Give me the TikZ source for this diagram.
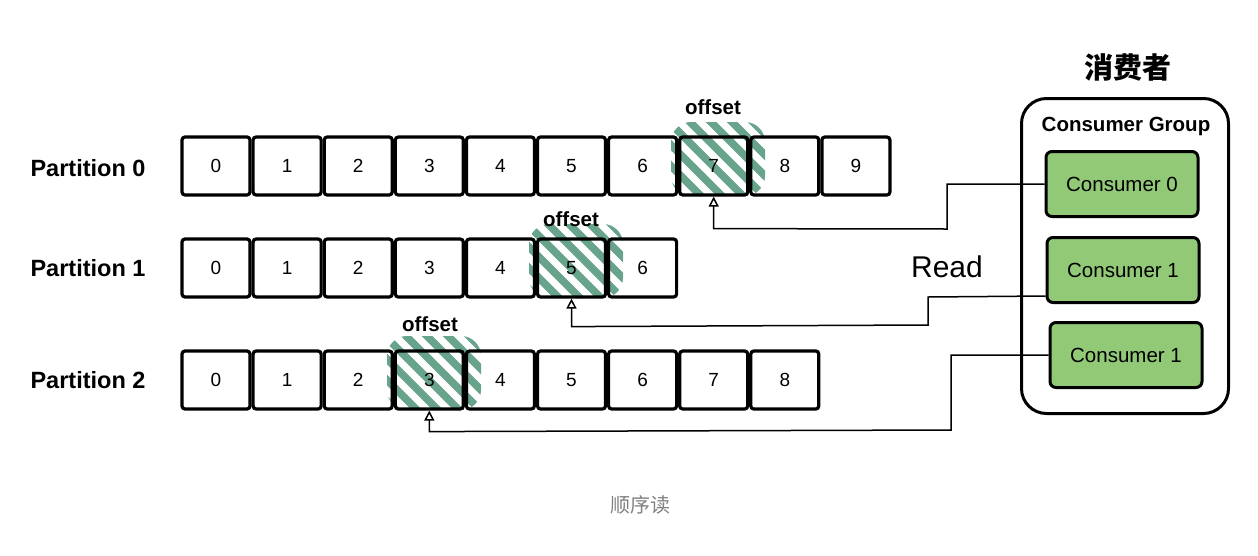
\documentclass[tikz,border=0pt]{standalone}
\usepackage{fontspec}
\setmainfont{Liberation Sans}
\newfontfamily\cjk{Noto Sans CJK SC}
\usetikzlibrary{arrows.meta,calc}
\definecolor{hatchc}{RGB}{104,163,140}
\definecolor{cgreen}{RGB}{146,201,118}
\definecolor{capgray}{RGB}{128,128,128}
\tikzset{
 cell/.style={draw, line width=3.2pt, rounded corners=3pt, minimum width=68pt, minimum height=58pt, inner sep=0pt, font=\fontsize{19}{19}\selectfont},
 plabel/.style={font=\bfseries\fontsize{23.5}{24}\selectfont},
 offlabel/.style={font=\bfseries\fontsize{20.5}{21}\selectfont},
 consumer/.style={draw, fill=cgreen, line width=3pt, rounded corners=6pt, minimum width=152pt, minimum height=65pt, font=\fontsize{20.5}{21}\selectfont},
 groupbox/.style={draw, line width=3pt, rounded corners=25pt, minimum width=207pt, minimum height=315pt},
 conn/.style={line width=1.5pt, -{Triangle[open,length=10pt,width=10pt]}},
 stripe/.style={draw=hatchc, line width=7.5pt, line cap=round},
}
\newcommand\offsethatch[2]{%
 \begin{scope}
 \clip[rounded corners=20pt] (#1-42,#2-44) rectangle (#1+52,#2+30);
 \foreach \k in {-6,...,6} \draw[stripe] (#1+\k*21-70,#2-70) -- ++(140,140);
 \end{scope}}
\begin{document}
\begin{tikzpicture}[x=1pt,y=-1pt]
\useasboundingbox (0,0) rectangle (1258,555);
% hatches
\offsethatch{713}{166}
\offsethatch{571}{268}
\offsethatch{429}{380}
% partition labels
\node[plabel] (pl0) at (88,168) {Partition 0};
\node[plabel] (pl1) at (88,268) {Partition 1};
\node[plabel] (pl2) at (88,380) {Partition 2};
% cells
\foreach \i in {0,...,9} \node[cell] (p0c\i) at (216+71.1*\i,166) {\i};
\foreach \i in {0,...,6} \node[cell] (p1c\i) at (216+71.1*\i,268) {\i};
\foreach \i in {0,...,8} \node[cell] (p2c\i) at (216+71.1*\i,380) {\i};
% offset labels
\node[offlabel] (o0) at (713,107) {offset};
\node[offlabel] (o1) at (571,219) {offset};
\node[offlabel] (o2) at (430,324) {offset};
% consumer group
\node (title) at (1128,67) {\cjk\bfseries\fontsize{29}{29}\selectfont 消费者};
\node[groupbox] (grp) at (1125,256) {};
\node[font=\bfseries\fontsize{20.5}{21}\selectfont] (gt) at (1126,126) {Consumer Group};
\node[consumer] (c0) at (1122,184) {Consumer 0};
\node[consumer] (c1) at (1123,270) {Consumer 1};
\node[consumer] (c2) at (1126,355) {Consumer 1};
% connectors
\draw[conn] (c0.west) -- (947,184) -- (947,229) -- ($(p0c7.south)+(0,32)$) -- (p0c7.south);
\coordinate (c1s) at ($(c1.south west)+(0,-8)$);
\draw[conn] (c1s) -- (928,297) -- (928,325) -- ($(p1c5.south)+(0,28)$) -- (p1c5.south);
\draw[conn] (c2.west) -- (951,355) -- (951,430) -- ($(p2c3.south)+(0,21)$) -- (p2c3.south);
\node[font=\fontsize{30}{30}\selectfont] (read) at (947,267) {Read};
% caption
\node[text=capgray] (cap) at (640,505) {\cjk\fontsize{20}{20}\selectfont 顺序读};
\end{tikzpicture}
\end{document}
